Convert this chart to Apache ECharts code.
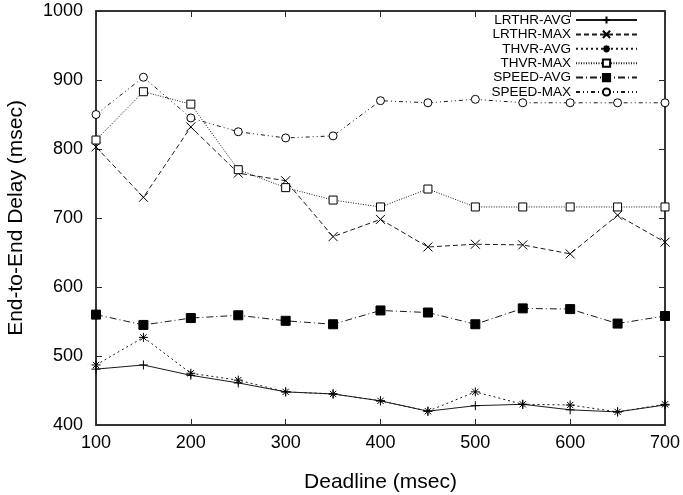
<!DOCTYPE html>
<html><head><meta charset="utf-8">
<script src="https://cdn.jsdelivr.net/npm/echarts@6/dist/echarts.min.js"></script>
<style>html,body{margin:0;padding:0;background:#fff}#c{width:683px;height:495px}</style>
</head><body><div id="c"></div>
<script>
var deadlines = [100,150,200,250,300,350,400,450,500,550,600,650,700];
var lrthrAvg = [481,487,472,461,448,445,435,420,428,430,422,419,429];
var lrthrMax = [803,730,832,765,754,673,698,658,662,661,648,704,665];
var thvrAvg  = [487,527,475,465,448,445,435,420,448,430,429,419,430];
var thvrMax  = [813,883,865,770,744,726,716,742,716,716,716,716,716];
var speedAvg = [560,545,555,559,551,546,566,563,546,569,568,547,558];
var speedMax = [850,904,845,825,816,819,870,867,872,867,867,867,867];
var seriesNames = ['LRTHR-AVG','LRTHR-MAX','THVR-AVG','THVR-MAX','SPEED-AVG','SPEED-MAX'];

function pairs(v){ return deadlines.map(function(d,i){ return [d, v[i]]; }); }

var plusSym = 'path://M5,0L5,10M0,5L10,5';
var xSym = 'path://M0,0L10,10M10,0L0,10';
var starSym = 'path://M5,0L5,10M0,5L10,5M1.5,1.5L8.5,8.5M8.5,1.5L1.5,8.5';

function mk(name, data, dash, symbol, size, fill){
  return {
    name: name, type: 'line', data: pairs(data),
    symbol: symbol, symbolSize: size, showSymbol: true,
    lineStyle: {color: '#1a1a1a', width: 1, type: dash},
    itemStyle: {color: fill, borderColor: '#000', borderWidth: 1},
    emphasis: {disabled: true}, animation: false
  };
}

var chart = echarts.init(document.getElementById('c'));
var fnt = 'Liberation Sans, Arial, Helvetica, sans-serif';
var axisCol = '#2a2a2a';
chart.setOption({
  animation: false,
  grid: {left: 96, right: 18, top: 11, bottom: 70, containLabel: false, outerBoundsMode: 'none',
         show: true, borderColor: axisCol, borderWidth: 1.5, backgroundColor: 'transparent'},
  legend: {
    orient: 'vertical', right: 45, top: 13, align: 'right', padding: 0,
    itemWidth: 61, itemHeight: 9, itemGap: 0.4,
    textStyle: {fontFamily: fnt, fontSize: 13.5, color: '#000', lineHeight: 14, padding: [0, 0, 0, 0]},
    data: seriesNames
  },
  xAxis: [{
    type: 'value', min: 100, max: 700, interval: 100,
    name: 'Deadline (msec)', nameLocation: 'middle', nameGap: 47,
    nameTextStyle: {fontFamily: fnt, fontSize: 21, color: '#000'},
    axisLine: {show: true, lineStyle: {color: axisCol, width: 1.5}},
    axisTick: {show: true, inside: true, length: 6, lineStyle: {color: axisCol}},
    axisLabel: {fontFamily: fnt, fontSize: 18, color: '#000', margin: 9},
    splitLine: {show: false}
  },{
    type: 'value', position: 'top', min: 100, max: 700, interval: 100,
    axisLine: {show: true, lineStyle: {color: axisCol, width: 1.5}},
    axisTick: {show: true, inside: true, length: 6, lineStyle: {color: axisCol}},
    axisLabel: {show: false}, splitLine: {show: false}
  }],
  yAxis: [{
    type: 'value', min: 400, max: 1000, interval: 100,
    name: 'End-to-End Delay (msec)', nameLocation: 'middle', nameGap: 69,
    nameTextStyle: {fontFamily: fnt, fontSize: 21, color: '#000'},
    axisLine: {show: true, lineStyle: {color: axisCol, width: 1.5}},
    axisTick: {show: true, inside: true, length: 6, lineStyle: {color: axisCol}},
    axisLabel: {fontFamily: fnt, fontSize: 18, color: '#000', margin: 13, formatter: function(v){ return String(v); }},
    splitLine: {show: false}
  },{
    type: 'value', position: 'right', min: 400, max: 1000, interval: 100,
    axisLine: {show: true, lineStyle: {color: axisCol, width: 1.5}},
    axisTick: {show: true, inside: true, length: 6, lineStyle: {color: axisCol}},
    axisLabel: {show: false}, splitLine: {show: false}
  }],
  series: [
    mk('LRTHR-AVG', lrthrAvg, 'solid', plusSym, 9, 'none'),
    mk('LRTHR-MAX', lrthrMax, [5,3], xSym, 9, 'none'),
    mk('THVR-AVG', thvrAvg, [2,3], starSym, 9, 'none'),
    mk('THVR-MAX', thvrMax, [1,1.5], 'rect', 8, '#fff'),
    mk('SPEED-AVG', speedAvg, [7,3,1,3], 'rect', 9, '#000'),
    mk('SPEED-MAX', speedMax, [4,3,1,3,1,3], 'circle', 8, '#fff')
  ]
});
</script></body></html>
